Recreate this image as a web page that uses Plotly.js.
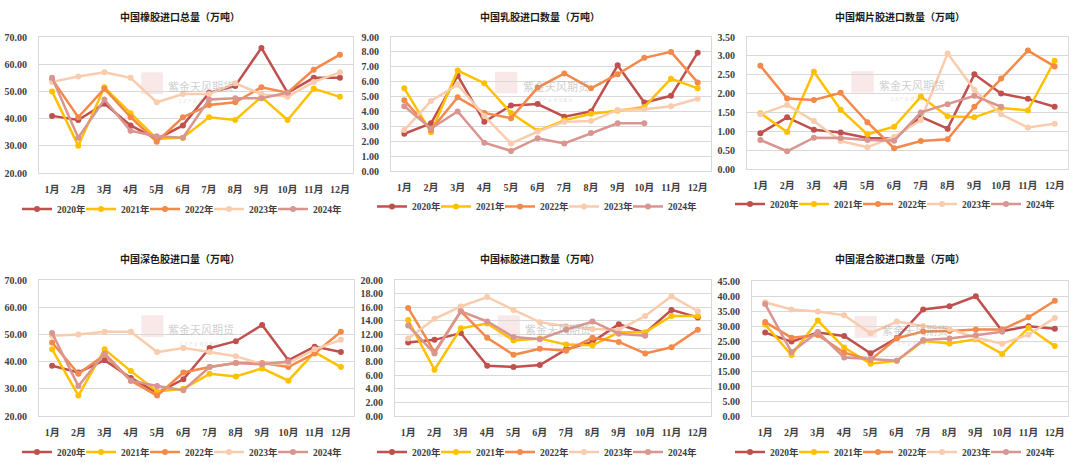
<!DOCTYPE html>
<html>
<head>
<meta charset="utf-8">
<script src="https://cdn.plot.ly/plotly-3.0.1.min.js"></script>
<style>
  html, body { margin: 0; padding: 0; background: #ffffff; }
  #wrap { position: relative; width: 1080px; height: 469px; overflow: hidden; background: #fff; }
  .panel { position: absolute; }
</style>
</head>
<body>
<div id="wrap">
  <div id="p1" class="panel" style="left:0px;top:0px;width:360px;height:230px;"></div>
  <div id="p2" class="panel" style="left:360px;top:0px;width:360px;height:230px;"></div>
  <div id="p3" class="panel" style="left:712px;top:0px;width:368px;height:230px;"></div>
  <div id="p4" class="panel" style="left:0px;top:240px;width:360px;height:245px;"></div>
  <div id="p5" class="panel" style="left:360px;top:240px;width:360px;height:245px;"></div>
  <div id="p6" class="panel" style="left:712px;top:240px;width:368px;height:245px;"></div>
</div>
<script>
// ---------- categories ----------
const months = ["1月","2月","3月","4月","5月","6月","7月","8月","9月","10月","11月","12月"];
const years = ["2020年","2021年","2022年","2023年","2024年"];

// ---------- 中国橡胶进口总量 ----------
const total2020 = [41.0, 39.5, 45.5, 37.5, 32.5, 37.5, 49.5, 52.0, 66.0, 49.5, 55.0, 55.0];
const total2021 = [50.0, 30.0, 51.5, 42.0, 32.5, 33.0, 40.5, 39.5, 48.0, 39.5, 51.0, 48.0];
const total2022 = [54.5, 40.5, 51.0, 40.5, 31.5, 40.5, 45.0, 46.0, 51.5, 49.5, 58.0, 63.5];
const total2023 = [53.5, 55.5, 57.0, 55.0, 46.0, 49.0, 49.0, 53.0, 49.0, 48.0, 53.5, 57.0];
const total2024 = [55.0, 33.0, 47.0, 35.5, 33.5, 33.0, 47.0, 47.5, 47.5, 49.5];

// ---------- 中国乳胶进口数量 ----------
const latex2020 = [2.50, 3.20, 6.40, 3.30, 4.40, 4.50, 3.65, 4.00, 7.10, 4.60, 5.05, 7.95];
const latex2021 = [5.55, 2.60, 6.75, 5.90, 3.90, 2.70, 3.40, 3.85, 4.05, 4.30, 6.20, 5.55];
const latex2022 = [4.75, 2.75, 4.95, 3.90, 3.55, 5.60, 6.55, 5.55, 6.50, 7.60, 8.00, 5.95];
const latex2023 = [2.75, 4.70, 5.80, 3.70, 1.85, 2.65, 3.30, 3.35, 4.10, 4.15, 4.35, 4.85];
const latex2024 = [4.35, 2.85, 4.00, 1.90, 1.35, 2.20, 1.85, 2.55, 3.20, 3.20];

// ---------- 中国烟片胶进口数量 ----------
const rss2020 = [0.95, 1.37, 1.04, 0.97, 0.82, 0.80, 1.38, 1.07, 2.51, 2.00, 1.86, 1.65];
const rss2021 = [1.48, 0.98, 2.58, 1.57, 0.92, 1.12, 1.92, 1.40, 1.37, 1.62, 1.55, 2.87];
const rss2022 = [2.74, 1.87, 1.83, 2.02, 1.24, 0.55, 0.74, 0.79, 1.65, 2.40, 3.14, 2.72];
const rss2023 = [1.45, 1.70, 1.27, 0.74, 0.58, 0.85, 1.30, 3.06, 2.10, 1.45, 1.10, 1.20];
const rss2024 = [0.77, 0.47, 0.83, 0.82, 0.77, 0.75, 1.50, 1.72, 1.94, 1.65];

// ---------- 中国深色胶进口量 ----------
const dark2020 = [38.5, 36.0, 40.5, 34.0, 28.5, 33.5, 45.0, 47.5, 53.5, 40.5, 45.5, 43.5];
const dark2021 = [44.5, 27.5, 44.5, 36.5, 29.0, 30.0, 35.5, 34.5, 37.5, 33.0, 43.5, 38.0];
const dark2022 = [47.0, 35.5, 42.5, 33.0, 27.5, 36.0, 38.0, 39.5, 39.5, 38.0, 43.0, 51.0];
const dark2023 = [49.5, 50.0, 51.0, 51.0, 43.5, 45.0, 43.5, 42.0, 39.0, 39.5, 44.5, 48.0];
const dark2024 = [50.5, 31.0, 43.0, 33.0, 31.0, 29.5, 38.0, 39.5, 39.0, 40.0];

// ---------- 中国标胶进口数量 ----------
const tsr2020 = [10.8, 11.2, 12.2, 7.4, 7.2, 7.5, 9.8, 10.9, 13.5, 12.2, 15.6, 14.5];
const tsr2021 = [14.1, 6.8, 12.9, 13.6, 11.1, 11.4, 10.5, 10.4, 12.3, 12.3, 14.7, 14.7];
const tsr2022 = [15.9, 9.4, 15.4, 11.5, 9.0, 9.9, 9.6, 11.5, 10.9, 9.2, 10.1, 12.7];
const tsr2023 = [11.4, 14.3, 16.1, 17.5, 15.6, 13.8, 13.2, 12.8, 12.7, 14.7, 17.6, 15.4];
const tsr2024 = [13.3, 9.2, 15.4, 13.9, 11.6, 11.3, 12.7, 13.9, 12.1, 11.8];

// ---------- 中国混合胶进口数量 ----------
const mix2020 = [27.8, 24.8, 27.8, 26.7, 20.9, 26.0, 35.5, 36.6, 39.9, 28.3, 29.9, 29.1];
const mix2021 = [30.5, 20.3, 31.8, 22.8, 17.4, 18.4, 25.0, 24.2, 25.6, 20.7, 29.4, 23.3];
const mix2022 = [31.3, 26.1, 27.0, 21.1, 18.7, 25.9, 28.2, 28.3, 28.8, 28.8, 32.9, 38.4];
const mix2023 = [37.9, 35.5, 34.8, 33.6, 27.6, 31.5, 30.0, 29.0, 26.1, 24.1, 27.1, 32.7];
const mix2024 = [37.3, 21.3, 28.0, 19.5, 19.0, 18.4, 25.3, 25.8, 26.9, 28.1];

// ---------- styles ----------
const colors = ["#C0504D", "#FFC000", "#F4894A", "#F9CCAE", "#D9958F"];
const serif = "Liberation Serif, Noto Sans CJK SC, serif";
const cjk = "Noto Sans CJK SC, sans-serif";

const panels = [
  { id: "p1", W: 360, H: 230, title: "中国橡胶进口总量（万吨）", series: [total2020, total2021, total2022, total2023, total2024],
    range: [20, 70], dtick: 10, m: {l: 39, r: 7, t: 37, b: 57}, top: true, legLeft: 17 },
  { id: "p2", W: 360, H: 230, title: "中国乳胶进口数量（万吨）", series: [latex2020, latex2021, latex2022, latex2023, latex2024],
    range: [0, 9], dtick: 1, m: {l: 31, r: 9, t: 37, b: 57}, top: true, legLeft: 12 },
  { id: "p3", W: 368, H: 230, title: "中国烟片胶进口数量（万吨）", series: [rss2020, rss2021, rss2022, rss2023, rss2024],
    range: [0, 3.5], dtick: 0.5, m: {l: 35, r: 12, t: 37, b: 57}, top: true, legLeft: 10 },
  { id: "p4", W: 360, H: 245, title: "中国深色胶进口量（万吨）", series: [dark2020, dark2021, dark2022, dark2023, dark2024],
    range: [20, 70], dtick: 10, m: {l: 39, r: 6, t: 40, b: 69}, top: false, legLeft: 17 },
  { id: "p5", W: 360, H: 245, title: "中国标胶进口数量（万吨）", series: [tsr2020, tsr2021, tsr2022, tsr2023, tsr2024],
    range: [0, 20], dtick: 2, m: {l: 35, r: 9, t: 40, b: 69}, top: false, legLeft: 12 },
  { id: "p6", W: 368, H: 245, title: "中国混合胶进口数量（万吨）", series: [mix2020, mix2021, mix2022, mix2023, mix2024],
    range: [0, 45], dtick: 5, m: {l: 40, r: 12, t: 41, b: 69}, top: false, legLeft: 10 }
];

panels.forEach(function (p) {
  const H = p.H;
  const plotW = p.W - p.m.l - p.m.r;
  const plotH = H - p.m.t - p.m.b;
  const traces = p.series.map(function (vals, i) {
    return {
      type: "scatter",
      mode: "lines+markers",
      name: years[i],
      x: months.slice(0, vals.length),
      y: vals,
      line: { color: colors[i], width: 2.5 },
      marker: { color: colors[i], size: 6 },
      legendwidth: i === years.length - 1 ? 26 : 19,
      hoverinfo: "x+y+name"
    };
  });
  const cellShift = p.W - 360;
  const legCenterBelow = p.top ? (209 - 173) : (452 - 416);
  const layout = {
    width: p.W, height: H,
    margin: p.m,
    paper_bgcolor: "rgba(0,0,0,0)",
    plot_bgcolor: "rgba(0,0,0,0)",
    showlegend: true,
    title: {
      text: "<b>" + p.title + "</b>",
      font: { family: cjk, size: 10, color: "#1a1a1a" },
      x: (cellShift + 180) / p.W, xref: "container", xanchor: "center",
      y: p.top ? 1 - 17 / H : 1 - 19 / H, yref: "container", yanchor: "middle"
    },
    xaxis: {
      type: "category",
      categoryorder: "array", categoryarray: months,
      range: [-0.5, 11.5],
      showgrid: false, zeroline: false,
      showline: true, linecolor: "#D9D9D9", linewidth: 1, mirror: true,
      ticks: "", ticklabelstandoff: 7,
      tickfont: { family: serif, size: 10, color: "#404040", weight: "bold" },
      fixedrange: true
    },
    yaxis: {
      range: p.range, dtick: p.dtick, tick0: 0,
      tickformat: ".2f",
      showgrid: true, gridcolor: "#D9D9D9", gridwidth: 1,
      zeroline: false,
      showline: true, linecolor: "#D9D9D9", linewidth: 1, mirror: true,
      ticks: "", ticklabelstandoff: 9,
      tickfont: { family: serif, size: 10, color: "#404040", weight: "bold" },
      fixedrange: true
    },
    legend: {
      orientation: "h",
      xref: "paper", yref: "paper",
      x: (cellShift + p.legLeft - p.m.l) / plotW, xanchor: "left",
      y: -legCenterBelow / plotH, yanchor: "middle",
      font: { family: serif, size: 9.5, color: "#404040", weight: "bold" },
      itemwidth: 30,
      entrywidthmode: "pixels",
      bgcolor: "rgba(0,0,0,0)"
    },
    shapes: [
      { type: "rect", xref: "paper", yref: "paper", x0: 0.325, x1: 0.395, y0: 0.58, y1: 0.74,
        fillcolor: "rgba(214,110,110,0.16)", line: { width: 0 }, layer: "below" }
    ],
    annotations: [
      { text: "紫金天风期货", xref: "paper", yref: "paper", x: 0.515, y: 0.71, showarrow: false,
        font: { family: cjk, size: 11, color: "rgba(160,160,160,0.5)" } },
      { text: "立 足 产 业  研 究 驱 动", xref: "paper", yref: "paper", x: 0.505, y: 0.53, showarrow: false,
        font: { family: cjk, size: 4, color: "rgba(170,170,170,0.4)" } }
    ]
  };
  Plotly.newPlot(p.id, traces, layout, { displayModeBar: false, staticPlot: true });
});
</script>
</body>
</html>
